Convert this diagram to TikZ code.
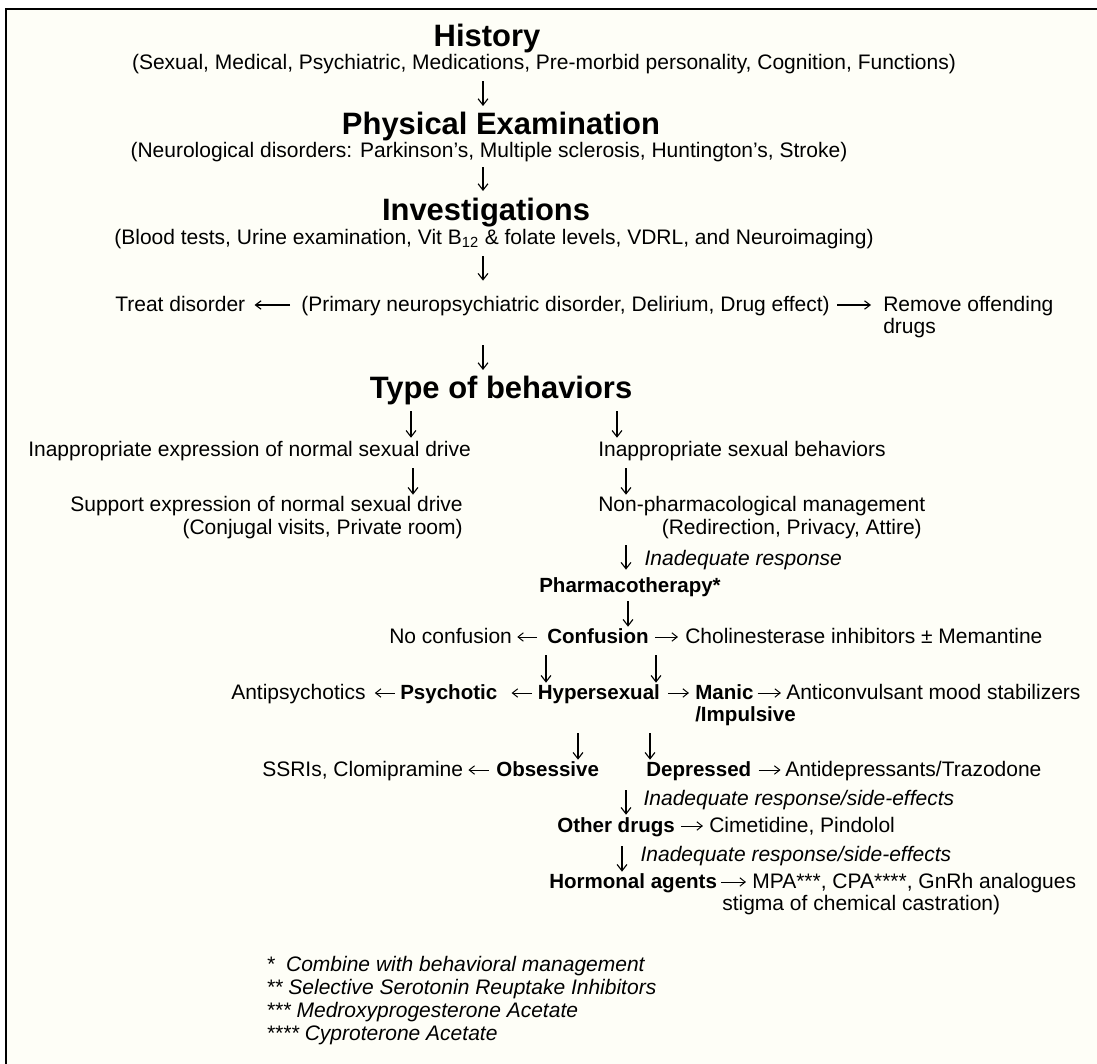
\documentclass[tikz,border=0pt]{standalone}
\usepackage{fontspec}
\setmainfont{Liberation Sans}
\usetikzlibrary{arrows.meta}
\definecolor{paper}{RGB}{254,254,247}
\begin{document}
\begin{tikzpicture}[x=0.025cm,y=-0.025cm,
  txt/.style={inner sep=0pt, anchor=west, font=\fontsize{14.94}{17}\selectfont, text height=11.4pt, text depth=2.85pt},
  btxt/.style={txt, font=\bfseries\fontsize{14.6}{17}\selectfont},
  itxt/.style={txt, font=\itshape\fontsize{14.94}{17}\selectfont},
  head/.style={inner sep=0pt, anchor=center, font=\bfseries\fontsize{22}{26}\selectfont, text height=16pt, text depth=0pt},
  varr/.style={line width=0.8pt, -{Straight Barb[length=4.5pt,width=7pt]}},
  larr/.style={line width=0.8pt, -{Straight Barb[length=4pt,width=6pt]}},
  sarr/.style={line width=0.7pt, -{Straight Barb[length=3.8pt,width=6pt]}},
  sh/.style 2 args={shorten <=#1pt, shorten >=#2pt}]
\useasboundingbox (0,0) rectangle (1097,1064);
\fill[white] (0,0) rectangle (1097,1064);
\draw[line width=1.7pt, fill=paper] (6,9) rectangle (1120,1090);

% top chain
\node[head] (hist) at (487,35) {History};
\node[txt, anchor=center] (sexual) at (544,63) {(Sexual, Medical, Psychiatric, Medications, Pre-morbid personality, Cognition, Functions)};
\node[head] (phys) at (501,123) {Physical Examination};
\node[txt, anchor=center] (neuro) at (489,151) {(Neurological disorders: Parkinson’s, Multiple sclerosis, Huntington’s, Stroke)};
\node[head] (inv) at (486,209) {Investigations};
\node[txt, anchor=center] (blood) at (494,238) {(Blood tests, Urine examination, Vit B\textsubscript{12} \& folate levels, VDRL, and Neuroimaging)};

\node[txt] (treat) at (115,305) {Treat disorder};
\node[txt] (prim) at (301,305) {(Primary neuropsychiatric disorder, Delirium, Drug effect)};
\node[txt] (remove) at (883,305) {Remove offending};
\node[txt] (drugs) at (883,327) {drugs};

\node[head] (typeb) at (501,387) {Type of behaviors};

\node[txt] (iaexp) at (28,450) {Inappropriate expression of normal sexual drive};
\node[txt] (iasex) at (598,450) {Inappropriate sexual behaviors};
\node[txt, anchor=east] (support) at (463,505) {Support expression of normal sexual drive};
\node[txt, anchor=east] (conj) at (463,528) {(Conjugal visits, Private room)};
\node[txt] (nonph) at (598,505) {Non-pharmacological management};
\node[txt, anchor=east] (redir) at (922,528) {(Redirection, Privacy, Attire)};

\node[btxt] (pharm) at (539,586) {Pharmacotherapy*};

\node[txt] (noconf) at (389,637) {No confusion};
\node[btxt] (conf) at (547,637) {Confusion};
\node[txt] (chol) at (685,637) {Cholinesterase inhibitors ± Memantine};

\node[txt] (antip) at (231,693) {Antipsychotics};
\node[btxt] (psych) at (400,693) {Psychotic};
\node[btxt] (hyper) at (537.5,693) {Hypersexual};
\node[btxt] (manic) at (695,693) {Manic};
\node[btxt] (impul) at (695,715) {/Impulsive};
\node[txt] (antic) at (786,693) {Anticonvulsant mood stabilizers};

\node[txt] (ssri) at (262,770) {SSRIs, Clomipramine};
\node[btxt] (obs) at (496,770) {Obsessive};
\node[btxt] (dep) at (646,770) {Depressed};
\node[txt] (antid) at (785,770) {Antidepressants/Trazodone};

\node[btxt] (other) at (557,826) {Other drugs};
\node[txt] (cim) at (709,826) {Cimetidine, Pindolol};

\node[btxt] (horm) at (549,882) {Hormonal agents};
\node[txt] (mpa) at (752,882) {MPA***, CPA****, GnRh analogues};
\node[txt] (stigma) at (722,904) {stigma of chemical castration)};

\node[itxt] (fn1) at (266,965) {*\ \ Combine with behavioral management};
\node[itxt] (fn2) at (266,988) {** Selective Serotonin Reuptake Inhibitors};
\node[itxt] (fn3) at (266,1011) {*** Medroxyprogesterone Acetate};
\node[itxt] (fn4) at (266,1034) {**** Cyproterone Acetate};

% arrow x positions
\coordinate (xa) at (483,0);
\coordinate (xl1) at (411,0);
\coordinate (xr1) at (617,0);
\coordinate (xl2) at (413,0);
\coordinate (xr2) at (626,0);
\coordinate (xp) at (628,0);
\coordinate (xc1) at (546,0);
\coordinate (xc2) at (656,0);
\coordinate (xh1) at (578,0);
\coordinate (xh2) at (650,0);
\coordinate (xo) at (622,0);

% vertical connectors
\draw[varr, sh={5.7}{3.9}] (sexual.south -| xa) -- (phys.north -| xa);
\draw[varr, sh={4.3}{4.6}] (neuro.south -| xa) -- (inv.north -| xa);
\draw[varr, sh={5.7}{10}] (blood.south -| xa) -- (prim.north -| xa);
\draw[varr, sh={21.3}{3.9}] (prim.south -| xa) -- (typeb.north -| xa);
\draw[varr, sh={9.2}{1.4}] (typeb.south -| xl1) -- (iaexp.north -| xl1);
\draw[varr, sh={9.2}{1.4}] (typeb.south -| xr1) -- (iasex.north -| xr1);
\draw[varr, sh={5.7}{0}] (iaexp.south -| xl2) -- (support.north -| xl2);
\draw[varr, sh={5.7}{0}] (iasex.south -| xr2) -- (nonph.north -| xr2);
\draw[varr, sh={5}{4.3}] (redir.south -| xr2) -- node[itxt, midway, xshift=12.8pt, yshift=-1.5pt] (lab1) {Inadequate response} (pharm.north -| xr2);
\draw[varr, sh={3.6}{0}] (pharm.south -| xp) -- (conf.north -| xp);
\draw[varr, sh={5.7}{0}] (conf.south -| xc1) -- (hyper.north -| xc1);
\draw[varr, sh={5.7}{0}] (conf.south -| xc2) -- (hyper.north -| xc2);
\draw[varr, sh={21.3}{0}] (hyper.south -| xh1) -- (obs.north -| xh1);
\draw[varr, sh={21.3}{0}] (hyper.south -| xh2) -- (dep.north -| xh2);
\draw[varr, sh={7.1}{0.7}] (dep.south -| xr2) -- node[itxt, midway, xshift=12.1pt, yshift=-1pt] (lab2) {Inadequate response/side-effects} (other.north -| xr2);
\draw[varr, sh={7.1}{0}] (other.south -| xo) -- node[itxt, midway, xshift=12.8pt, yshift=-1pt] (lab3) {Inadequate response/side-effects} (horm.north -| xo);

% horizontal connectors
\draw[larr, sh={7.8}{6.4}] (prim.west) -- (treat.east);
\draw[larr, sh={5}{8.5}] (prim.east) -- (remove.west);

\draw[sarr, sh={7.1}{3.6}] (conf.west) -- (noconf.east);
\draw[sarr, sh={4.3}{5}] (conf.east) -- (chol.west);
\draw[sarr, sh={3.6}{6.4}] (psych.west) -- (antip.east);
\draw[sarr, sh={3.9}{10}] (hyper.west) -- (psych.east);
\draw[sarr, sh={5.7}{4.3}] (hyper.east) -- (manic.west);
\draw[sarr, sh={2.8}{3.6}] (manic.east) -- (antic.west);
\draw[sarr, sh={5}{3.6}] (obs.west) -- (ssri.east);
\draw[sarr, sh={5}{3.2}] (dep.east) -- (antid.west);
\draw[sarr, sh={4.3}{4.3}] (other.east) -- (cim.west);
\draw[sarr, sh={3}{4.3}] (horm.east) -- (mpa.west);
\end{tikzpicture}
\end{document}
